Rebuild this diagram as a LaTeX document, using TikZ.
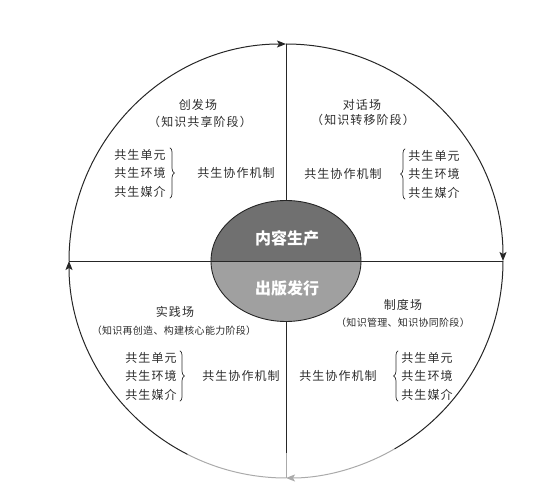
\documentclass[tikz,border=0pt]{standalone}
\usepackage{fontspec}
\newfontfamily\cjk[LetterSpace=9]{Noto Sans CJK SC}
\newfontfamily\cjknarrow[LetterSpace=3]{Noto Sans CJK SC}
\newfontfamily\cjkbold{Noto Sans CJK SC}
\usetikzlibrary{arrows.meta,shapes.geometric,decorations.pathreplacing,positioning,calc}
\definecolor{topgray}{RGB}{112,112,112}
\definecolor{botgray}{RGB}{160,160,160}
\definecolor{fadegray}{RGB}{170,170,170}
\definecolor{inkgray}{RGB}{45,45,45}

\tikzset{
  field/.style={font=\cjk\fontsize{12}{14}\selectfont, text=inkgray, inner sep=1pt},
  stage/.style={font=\cjknarrow\fontsize{10}{12}\selectfont, text=inkgray, inner sep=1pt},
  items/.style={font=\cjk\fontsize{12}{18.5}\selectfont, text=inkgray, align=center, inner sep=1pt},
  core/.style={font=\cjkbold\bfseries\fontsize{16}{18}\selectfont, text=white},
  line/.style={line width=0.9pt, draw=black!85},
  rim/.style={line width=1pt, draw=black!85, -{Stealth[length=9pt,width=7pt,inset=2pt]}},
  fade/.style={line width=1pt, draw=fadegray},
  brace/.style={decorate, decoration={brace, amplitude=4.5pt}, line width=0.7pt, draw=inkgray},
}

\begin{document}
\begin{tikzpicture}[x=1pt,y=1pt]
	\useasboundingbox (0,0) rectangle (539,493);

	\coordinate (C) at (286,232);
	\coordinate (T) at (286,449);
	\coordinate (B) at (286,15);
	\coordinate (L) at (69,232);
	\coordinate (R) at (503,232);
	\coordinate (gv) at (286,40);

	% core ellipse, two halves
	\begin{scope}
		\clip (C) ellipse [x radius=75pt, y radius=60.5pt];
		\fill[topgray] (205,232) rectangle (367,300);
		\fill[botgray] (205,232) rectangle (367,165);
	\end{scope}
	\node[ellipse, draw=black!85, line width=0.9pt, minimum width=150pt, minimum height=121pt, inner sep=0pt] (E) at (C) {};
	\node[core] (prod) at (287,255) {内容生产};
	\node[core] (pub) at (287,205) {出版发行};

	% axes
	\draw[line] (L) -- (R);
	\draw[line] (T) -- (E.north);
	\draw[line] (E.south) -- (gv);
	\draw[fade] (gv) -- (B);

	% outer cycle
	\draw[rim] (L) arc[start angle=180, end angle=90, radius=217pt];
	\draw[rim] (T) arc[start angle=90, end angle=0, radius=217pt];
	\draw[line, line width=1pt] (R) arc[start angle=0, end angle=-60, radius=217pt] coordinate (g1);
	\draw[rim, draw=fadegray] (g1) arc[start angle=-60, end angle=-90, radius=217pt];
	\draw[fade] (B) arc[start angle=270, end angle=243, radius=217pt] coordinate (g2);
	\draw[rim] (g2) arc[start angle=243, end angle=180, radius=217pt];

	% top left
	\node[field] (chuang) at (198,388) {创发场};
	\node[field] (chuangS) at (200,371) {（知识共享阶段）};
	\node[items] (chuangL) at (140,320) {共生单元\\共生环境\\共生媒介};
	\node[items] (chuangM) at (236,320) {共生协作机制};
	\draw[brace] ([xshift=3pt]chuangL.north east) -- ([xshift=3pt]chuangL.south east);

	% top right
	\node[field] (duihua) at (362,388) {对话场};
	\node[field] (duihuaS) at (363,373) {（知识转移阶段）};
	\node[items] (duihuaM) at (343,319) {共生协作机制};
	\node[items] (duihuaL) at (434,319) {共生单元\\共生环境\\共生媒介};
	\draw[brace] ([xshift=-2pt]duihuaL.south west) -- ([xshift=-2pt]duihuaL.north west);

	% bottom left
	\node[field] (shijian) at (175,181) {实践场};
	\node[stage] (shijianS) at (174,162) {（知识再创造、构建核心能力阶段）};
	\node[items] (shijianL) at (151,117) {共生单元\\共生环境\\共生媒介};
	\node[items] (shijianM) at (241,117) {共生协作机制};
	\draw[brace] ([xshift=2pt]shijianL.north east) -- ([xshift=2pt]shijianL.south east);

	% bottom right
	\node[field] (zhidu) at (403,188) {制度场};
	\node[stage] (zhiduS) at (403,170) {（知识管理、知识协同阶段）};
	\node[items] (zhiduM) at (338,117) {共生协作机制};
	\node[items] (zhiduL) at (427,117) {共生单元\\共生环境\\共生媒介};
	\draw[brace] ([xshift=-2pt]zhiduL.south west) -- ([xshift=-2pt]zhiduL.north west);
\end{tikzpicture}
\end{document}
